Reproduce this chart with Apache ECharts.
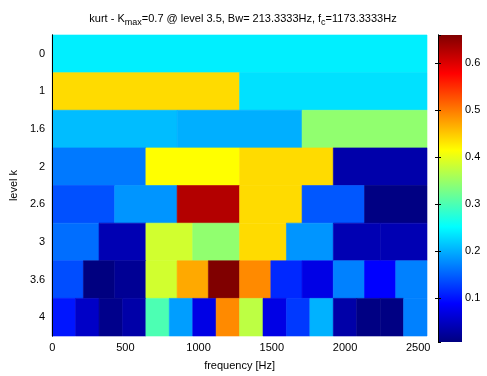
<!DOCTYPE html>
<html>
<head>
<meta charset="utf-8">
<script src="https://cdn.jsdelivr.net/npm/echarts@6/dist/echarts.min.js"></script>
<style>
  html, body { margin: 0; padding: 0; background: #fff; }
  #chart { width: 487px; height: 376px; }
</style>
</head>
<body>
<div id="chart"></div>
<script>
// level labels (top to bottom)
const levels = ['0', '1', '1.6', '2', '2.6', '3', '3.6', '4'];

// kurtosis per frequency band, one array per level
const kurt0  = [0.241];
const kurt1  = [0.438, 0.232];
const kurt16 = [0.209, 0.200, 0.344];
const kurt2  = [0.165, 0.415, 0.438, 0.033];
const kurt26 = [0.139, 0.183, 0.627, 0.438, 0.143, 0.008];
const kurt3  = [0.158, 0.039, 0.385, 0.344, 0.438, 0.183, 0.039, 0.039];
const kurt36 = [0.137, 0.006, 0.019, 0.385, 0.470, 0.660, 0.490, 0.113, 0.071, 0.170, 0.088, 0.170];
const kurt4  = [0.101, 0.052, 0.013, 0.032, 0.300, 0.189, 0.071, 0.490, 0.372, 0.071, 0.124, 0.202, 0.032, 0.008, 0.008, 0.170];

const rows = [kurt0, kurt1, kurt16, kurt2, kurt26, kurt3, kurt36, kurt4];

const fMax = 2560;
const cMin = 0.006, cMax = 0.66;

// jet colormap
const jetColors = ['#000080', '#0000ff', '#0080ff', '#00ffff', '#80ff80', '#ffff00', '#ff8000', '#ff0000', '#800000'];

// [f0, f1, row, value]
const cells = [];
rows.forEach((vals, r) => {
    const bw = fMax / vals.length;
    vals.forEach((v, i) => cells.push([i * bw, (i + 1) * bw, r, v]));
});

const font = 'Liberation Sans, Arial, sans-serif';
const tickStyle = { color: '#000', fontSize: 11, fontFamily: font };

const myChart = echarts.init(document.getElementById('chart'));

const option = {
    animation: false,
    title: {
        text: 'kurt - K{sub|max}=0.7 @ level 3.5, Bw= 213.3333Hz, f{sub|c}=1173.3333Hz',
        left: 238,
        textAlign: 'center',
        top: 6,
        textStyle: {
            fontSize: 11, fontWeight: 'normal', color: '#000', fontFamily: font,
            rich: {
                sub: { fontSize: 9, fontFamily: font, color: '#000', verticalAlign: 'top', padding: [7, 0, 0, 0] }
            }
        }
    },
    grid: [
        { left: 49, top: 35, width: 378, height: 307 },
        { left: 438, top: 35, width: 24, height: 307 }
    ],
    xAxis: [
        {
            gridIndex: 0, type: 'value', min: 0, max: fMax, interval: 500,
            name: 'frequency [Hz]', nameLocation: 'middle', nameGap: 24,
            nameTextStyle: tickStyle,
            axisLine: { lineStyle: { color: '#000' } },
            axisTick: { inside: true, length: 4, lineStyle: { color: '#000' } },
            axisLabel: Object.assign({ margin: 6, showMaxLabel: false, formatter: v => String(v) }, tickStyle),
            splitLine: { show: false },
            z: 5
        },
        {
            gridIndex: 0, type: 'value', position: 'top', min: 0, max: fMax, interval: 500,
            axisLine: { lineStyle: { color: '#000' } },
            axisTick: { inside: true, length: 4, lineStyle: { color: '#000' } },
            axisLabel: { show: false },
            splitLine: { show: false },
            z: 5
        },
        {
            gridIndex: 1, type: 'value', min: 0, max: 1, show: false
        }
    ],
    yAxis: [
        {
            gridIndex: 0, type: 'category', data: levels, inverse: true,
            name: 'level k', nameLocation: 'middle', nameGap: 27,
            nameTextStyle: tickStyle,
            axisLine: { lineStyle: { color: '#000' } },
            axisTick: { inside: true, alignWithLabel: true, length: 4, lineStyle: { color: '#000' } },
            axisLabel: Object.assign({ margin: 7 }, tickStyle),
            splitLine: { show: false },
            z: 5
        },
        {
            gridIndex: 0, type: 'category', data: levels, inverse: true, position: 'right',
            axisLine: { lineStyle: { color: '#000' } },
            axisTick: { inside: true, alignWithLabel: true, length: 4, lineStyle: { color: '#000' } },
            axisLabel: { show: false },
            splitLine: { show: false },
            z: 5
        },
        {
            gridIndex: 1, type: 'value', min: cMin, max: cMax, position: 'right',
            axisLine: { show: true, lineStyle: { color: '#000' } },
            axisTick: { show: true, inside: true, length: 3, lineStyle: { color: '#000' } },
            axisLabel: Object.assign({ margin: 3, showMinLabel: false, showMaxLabel: false }, tickStyle),
            splitLine: { show: false },
            z: 5
        },
        {
            gridIndex: 1, type: 'value', min: cMin, max: cMax, position: 'left',
            axisLine: { show: true, lineStyle: { color: '#000' } },
            axisTick: { show: true, inside: true, length: 3, lineStyle: { color: '#000' } },
            axisLabel: { show: false },
            splitLine: { show: false },
            z: 5
        }
    ],
    visualMap: {
        show: false, type: 'continuous', seriesIndex: 0, dimension: 3,
        min: cMin, max: cMax, inRange: { color: jetColors }
    },
    series: [
        {
            type: 'custom',
            xAxisIndex: 0, yAxisIndex: 0,
            data: cells,
            encode: { x: [0, 1], y: 2 },
            renderItem: (params, api) => {
                const p0 = api.coord([api.value(0), api.value(2)]);
                const p1 = api.coord([api.value(1), api.value(2)]);
                const h = api.size([0, 1])[1];
                const c = api.visual('color');
                return {
                    type: 'rect',
                    shape: { x: p0[0], y: p0[1] - h / 2, width: p1[0] - p0[0], height: h },
                    style: { fill: c, stroke: c, lineWidth: 0.6 }
                };
            }
        },
        {
            // colour bar
            type: 'custom',
            xAxisIndex: 2, yAxisIndex: 2,
            data: [[0, 1, cMin, cMax]],
            renderItem: (params, api) => {
                const a = api.coord([api.value(0), api.value(3)]);
                const b = api.coord([api.value(1), api.value(2)]);
                return {
                    type: 'rect',
                    shape: { x: a[0], y: a[1], width: b[0] - a[0], height: b[1] - a[1] },
                    style: {
                        fill: new echarts.graphic.LinearGradient(0, 1, 0, 0,
                            jetColors.map((c, i) => ({ offset: i / (jetColors.length - 1), color: c })))
                    }
                };
            }
        }
    ]
};

myChart.setOption(option);
</script>
</body>
</html>
